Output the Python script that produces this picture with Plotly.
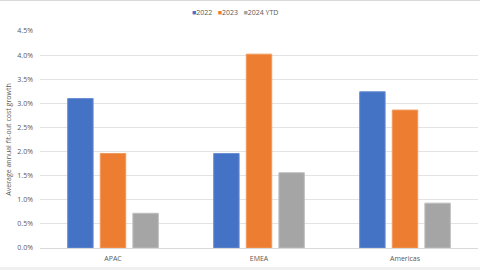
import plotly.graph_objects as go

categories = ["APAC", "EMEA", "Americas"]
series_names = ["2022", "2023", "2024 YTD"]
values_2022 = [3.10, 1.96, 3.24]
values_2023 = [1.96, 4.02, 2.86]
values_2024 = [0.72, 1.56, 0.93]
colors = ["#4472C4", "#ED7D31", "#A5A5A5"]
edge_colors = ["#6A8FD3", "#F29A5C", "#BDBDBD"]
y_ticks = [0, 0.5, 1.0, 1.5, 2.0, 2.5, 3.0, 3.5, 4.0, 4.5]
y_tick_labels = [f"{v:.1f}%" for v in y_ticks]

fig = go.Figure()
for name, vals, c, e in zip(series_names, [values_2022, values_2023, values_2024], colors, edge_colors):
    fig.add_trace(go.Bar(name=name, x=categories, y=vals, showlegend=False,
                         marker=dict(color=c, line=dict(color=e, width=1))))

font = "Open Sans, Liberation Sans, sans-serif"
fig.update_layout(
    width=480, height=270,
    margin=dict(l=40, r=2, t=31, b=22),
    paper_bgcolor="white", plot_bgcolor="white",
    barmode="group", bargap=0.33, bargroupgap=0.22,
    font=dict(family=font, size=7, color="#595959"),
    showlegend=False,
    xaxis=dict(showgrid=False, showline=True, linecolor="#D9D9D9", linewidth=1,
               ticks="", ticklabelstandoff=4, tickfont=dict(size=7, color="#595959"), fixedrange=True),
    yaxis=dict(range=[0, 4.5], tickvals=y_ticks, ticktext=y_tick_labels,
               showgrid=True, gridcolor="#E3E3E3", gridwidth=1, zeroline=False,
               showline=False, ticks="", ticklabelstandoff=6,
               tickfont=dict(size=7, color="#595959"),
               title=dict(text="Average annual fit-out cost growth", font=dict(size=7, color="#595959"), standoff=4)),
)

legend_text = "".join(
    f"<span style='color:{c}; font-size:7px'>■</span>{n}&nbsp;&nbsp;&nbsp;"
    for n, c in zip(series_names, colors)
)
fig.add_annotation(text=legend_text, xref="paper", yref="paper", x=(190 - 40) / 438, y=1 + (31 - 13) / 217,
                   xanchor="left", yanchor="middle", showarrow=False,
                   font=dict(size=7, color="#595959", family=font))
fig.add_shape(type="line", xref="paper", yref="paper", x0=-0.2, x1=1.1, y0=1 + 30.5 / 217, y1=1 + 30.5 / 217,
              line=dict(color="#D9D9D9", width=1))
fig.add_shape(type="rect", xref="paper", yref="paper", x0=-0.2, x1=1.1, y0=-(267 - 248) / 217, y1=-(271 - 248) / 217,
              line=dict(width=0), fillcolor="#F0F0F0", layer="below")
fig.write_html("out.html")
